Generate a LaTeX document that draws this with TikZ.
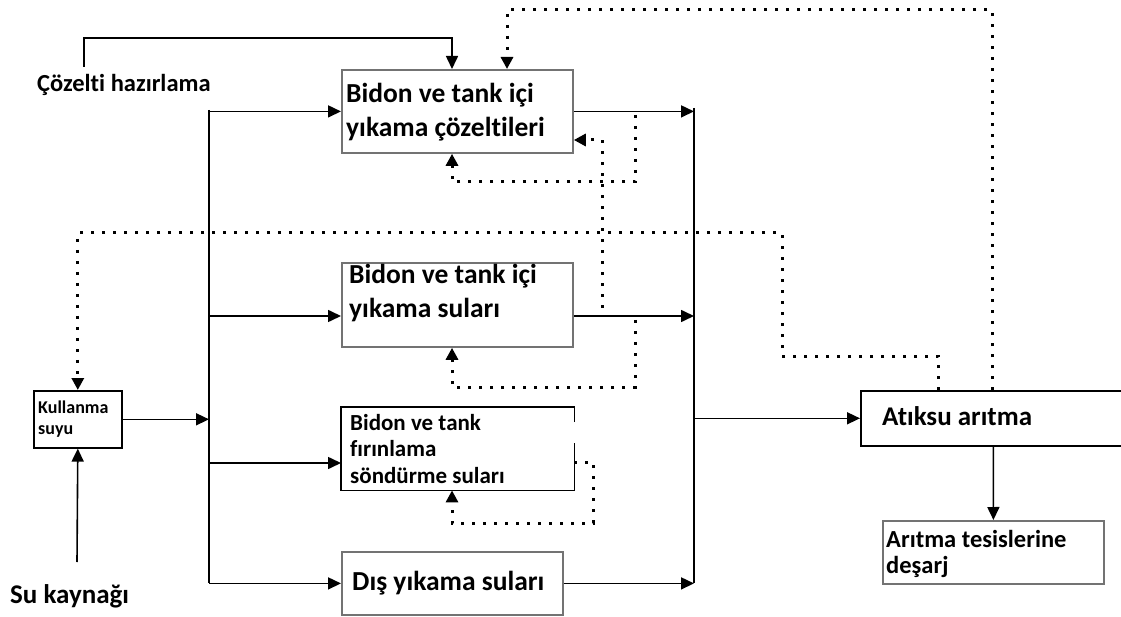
\documentclass[tikz,border=0pt]{standalone}
\usepackage{fontspec}
\setmainfont{Carlito}[Ligatures=NoCommon]
\usetikzlibrary{arrows.meta,calc}
\begin{document}
\begin{tikzpicture}[x=1pt,y=-1pt,
  gbox/.style={draw=black!55, line width=1.8pt, inner sep=0pt, anchor=north west},
  kbox/.style={draw=black, line width=1.6pt, inner sep=0pt, anchor=north west},
  line/.style={line width=1.6pt, black},
  arr/.style={line width=1.6pt, black, -{Triangle[length=13pt,width=12pt]}},
  dotarr/.style={line width=3pt, black, dash pattern=on 3pt off 8pt, -{Triangle[length=12pt,width=12pt]}},
  big/.style={font=\bfseries\fontsize{27.5}{34.5}\selectfont, inner sep=0pt, align=left, anchor=base west},
  mid/.style={font=\bfseries\fontsize{23}{26.5}\selectfont, inner sep=0pt, align=left, anchor=base west},
  small/.style={font=\bfseries\fontsize{18}{21}\selectfont, inner sep=0pt, align=left, anchor=base west}]
\useasboundingbox (0,0) rectangle (1121,617);

% boxes
\node[gbox, minimum width=231pt, minimum height=83pt] (b1) at (341,69) {};
\node[gbox, minimum width=231pt, minimum height=84pt] (b2) at (341,262) {};
\node[inner sep=0pt, anchor=north west, minimum width=233pt, minimum height=83pt] (b3) at (341,407) {};
\draw[black, line width=1.6pt] ($(b3.north east)+(0,15)$) -- (b3.north east) -- (b3.north west) -- (b3.south west) -- (b3.south east) -- ($(b3.north east)+(0,36)$);
\node[gbox, minimum width=221pt, minimum height=63pt] (b4) at (341,551) {};
\node[kbox, minimum width=88pt, minimum height=57pt] (ku) at (33,390) {};
\node[kbox, minimum width=265pt, minimum height=55pt] (at) at (860,390) {};
\node[gbox, minimum width=221pt, minimum height=63pt] (de) at (882,520) {};

% texts (multi-line nodes: anchor at last baseline)
\node[big] (t1) at (346,137) {Bidon ve tank içi\\yıkama çözeltileri};
\node[big] (t2) at (349,318) {Bidon ve tank içi\\yıkama suları};
\node[mid] (t3) at (350,483) {Bidon ve tank\\fırınlama\\söndürme suları};
\node[big] (t4) at (352,590) {Dış yıkama suları};
\node[small] (tk) at (38,434) {Kullanma\\suyu};
\node[font=\bfseries\fontsize{27}{30}\selectfont, inner sep=0pt, anchor=base west] (ta) at (882,425) {Atıksu arıtma};
\node[font=\bfseries\fontsize{24.5}{26}\selectfont, inner sep=0pt, align=left, anchor=base west] (td) at (886,573) {Arıtma tesislerine\\deşarj};
\node[font=\bfseries\fontsize{24.5}{28}\selectfont, inner sep=0pt, anchor=base west] (cz) at (37,92) {Çözelti hazırlama};
\node[font=\bfseries\fontsize{27}{30}\selectfont, inner sep=0pt, anchor=base west] (sk) at (10,603) {Su kaynağı};

% coordinates
\coordinate (czt) at (84,67);
\coordinate (skt) at (77,562);
\coordinate (lt) at (209,110);
\coordinate (lb) at (209,583);
\coordinate (rt) at (694,108);
\coordinate (rb) at (694,583);
\coordinate (b2in) at ($(b2.north west)+(0,54)$);
\coordinate (b3in) at ($(b3.north west)+(0,56)$);
\coordinate (b2out) at ($(b2.north east)+(0,54)$);

% solid connectors
\draw[arr] (czt) -- (84,38) -| ($(b1.north west)+(111,0)$);
\draw[line] (lt) -- (lb);
\draw[line] (rt) -- (rb);
\draw[arr] (ku.east) -- (ku.east -| lt);
\draw[arr] (skt) -- (ku.south);
\draw[arr] (b1.west -| lt) -- (b1.west);
\draw[arr] (b2in -| lt) -- (b2in);
\draw[arr] (b3in -| lt) -- (b3in);
\draw[arr] (b4.west -| lt) -- (b4.west);
\draw[arr] (b1.east) -- (b1.east -| rt);
\draw[arr] (b2out) -- (b2out -| rt);
\draw[arr] (b4.east) -- (b4.east -| rt);
\draw[arr] (at.west -| rt) -- (at.west);
\draw[arr] (at.south) -- (de.north);

% dotted connectors
\draw[dotarr] ($(at.north west)+(132,0)$) -- (992,10) -| ($(b1.north west)+(166,0)$);
\draw[dotarr] ($(at.north west)+(78,0)$) -- (938,356) -- (782,356) -- (782,233) -| (ku.north);
\draw[dotarr] (635,115) -- (635,182) -| ($(b1.south west)+(111,0)$);
\draw[dotarr] (602,308) -- (602,140) -- ($(b1.north east)+(0,71)$);
\draw[dotarr] (635,320) -- (635,387) -| ($(b2.south west)+(111,0)$);
\draw[dotarr] ($(b3.north east)+(0,55)$) -- (593,462) -- (593,523) -| ($(b3.south west)+(111,0)$);
\end{tikzpicture}
\end{document}
